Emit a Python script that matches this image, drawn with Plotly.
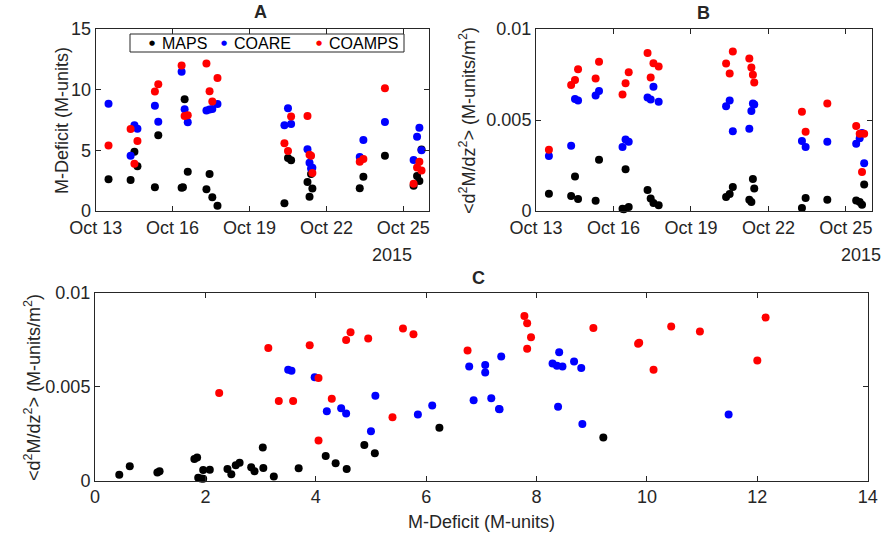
import plotly.graph_objects as go

# Profile times (UTC), shared by the three estimates
times = [
    "2015-10-13 12:00",
    "2015-10-14 08:40", "2015-10-14 12:15", "2015-10-14 15:05",
    "2015-10-15 07:25", "2015-10-15 10:35",
    "2015-10-16 08:25", "2015-10-16 09:40", "2015-10-16 11:15", "2015-10-16 14:10",
    "2015-10-17 07:40", "2015-10-17 10:35", "2015-10-17 13:10", "2015-10-17 18:00",
    "2015-10-20 08:40", "2015-10-20 12:00", "2015-10-20 14:55",
    "2015-10-21 06:15", "2015-10-21 08:10", "2015-10-21 09:35", "2015-10-21 10:50",
    "2015-10-23 07:10", "2015-10-23 10:35",
    "2015-10-24 06:45",
    "2015-10-25 09:35", "2015-10-25 12:50", "2015-10-25 15:00", "2015-10-25 17:00",
]

# M-deficit (M-units)
deficit_maps = [2.62, 2.55, 4.88, 3.69, 1.96, 6.24, 1.92, 1.96, 9.21, 3.24,
                1.80, 3.05, 1.13, 0.44, 0.63, 4.36, 4.18, 2.40, 1.17, 3.04, 1.85,
                1.87, 2.83, 4.56, 2.08, 2.89, 2.47, 5.07]
deficit_coare = [8.83, 4.55, 7.07, 6.78, 8.68, 7.36, 11.48, None, 8.39, 7.32,
                 8.29, 8.37, 8.41, 8.81, 7.07, 8.47, 7.18, 5.08, 3.98, 3.50, 3.56,
                 4.46, 5.85, 7.33, 4.20, 6.11, 6.86, 5.00]
deficit_coamps = [5.39, 6.75, 3.89, 5.77, 9.84, 10.44, 12.00, None, 7.83, 7.90,
                  12.15, 9.86, 9.03, 10.96, 5.58, 4.95, 7.78, 7.83, 4.63, 4.55, 3.14,
                  4.05, 4.29, 10.12, 2.25, 3.59, 4.05, 3.33]

# Mean curvature <d2M/dz2> (M-units/m^2)
curv_maps = [0.00095, 0.00082, 0.00190, 0.00066, 0.00057, 0.00282, 0.00012, 0.00010,
             0.00230, 0.00022, 0.00115, 0.00068, 0.00044, 0.00031, 0.00077, 0.00093,
             0.00132, 0.00062, 0.00050, 0.00176, 0.00124, 0.00016, 0.00072, 0.00062,
             0.00058, 0.00050, 0.00034, 0.00146]
curv_coare = [0.00302, 0.00358, 0.00616, 0.00607, 0.00634, 0.00660, 0.00352, None,
              0.00393, 0.00381, 0.00624, 0.00612, 0.00683, 0.00600, 0.00575, 0.00607,
              0.00438, 0.00452, 0.00550, 0.00590, 0.00585, 0.00385, 0.00352, 0.00380,
              0.00370, 0.00400, 0.00428, 0.00263]
curv_coamps = [0.00337, 0.00692, 0.00720, 0.00779, 0.00728, 0.00820, 0.00640, None,
               0.00702, 0.00763, 0.00868, 0.00734, 0.00812, 0.00794, 0.00810, 0.00756,
               0.00876, 0.00838, 0.00789, 0.00748, 0.00706, 0.00546, 0.00436, 0.00590,
               0.00467, 0.00424, 0.00214, 0.00424]

series_names = ["MAPS", "COARE", "COAMPS"]
series_colors = ["#000000", "#0000ff", "#ff0000"]
deficits = [deficit_maps, deficit_coare, deficit_coamps]
curvatures = [curv_maps, curv_coare, curv_coamps]

date_ticks = ["2015-10-13", "2015-10-16", "2015-10-19", "2015-10-22", "2015-10-25"]
date_range = ["2015-10-13", "2015-10-26"]
curv_ticks = [0, 0.005, 0.01]
curv_ticktext = ["0", "0.005", "0.01"]
deficit_ticks = [0, 5, 10, 15]

FONT = "Liberation Sans, Arial, sans-serif"
INK = "#262626"
W, H = 881, 542

fig = go.Figure()

marker_size = 8
for name, color, dvals, cvals in zip(series_names, series_colors, deficits, curvatures):
    common = dict(mode="markers", marker=dict(color=color, size=marker_size),
                  showlegend=False, cliponaxis=False, name=name)
    fig.add_trace(go.Scatter(x=times, y=dvals, xaxis="x", yaxis="y", **common))
    fig.add_trace(go.Scatter(x=times, y=cvals, xaxis="x2", yaxis="y2", **common))
    fig.add_trace(go.Scatter(x=dvals, y=cvals, xaxis="x3", yaxis="y3", **common))

axis_style = dict(showline=True, linecolor=INK, linewidth=1, mirror="allticks",
                  ticks="inside", ticklen=5, tickcolor=INK, showgrid=False,
                  zeroline=False, automargin=False,
                  tickfont=dict(family=FONT, size=18, color=INK))


def px_x(p):
    return p / W


def px_y(p):
    return 1 - p / H


dom_a_x = [px_x(95.7), px_x(429)]
dom_b_x = [px_x(536), px_x(871.7)]
dom_top_y = [px_y(211), px_y(29)]
dom_c_x = [px_x(95), px_x(867.7)]
dom_c_y = [px_y(480.7), px_y(292.7)]

fig.update_layout(
    width=W, height=H,
    margin=dict(l=0, r=0, t=0, b=0, autoexpand=False),
    paper_bgcolor="white", plot_bgcolor="white",
    font=dict(family=FONT, color=INK),
    showlegend=False,
    xaxis=dict(domain=dom_a_x, anchor="y", type="date", range=date_range,
               tickvals=date_ticks, tickformat="%b %d", **axis_style),
    yaxis=dict(domain=dom_top_y, anchor="x", range=[0, 15], tickvals=deficit_ticks,
               **axis_style),
    xaxis2=dict(domain=dom_b_x, anchor="y2", type="date", range=date_range,
                tickvals=date_ticks, tickformat="%b %d", **axis_style),
    yaxis2=dict(domain=dom_top_y, anchor="x2", range=[0, 0.01], tickvals=curv_ticks,
                ticktext=curv_ticktext, **axis_style),
    xaxis3=dict(domain=dom_c_x, anchor="y3", range=[0, 14], tickvals=list(range(0, 15, 2)),
                **axis_style),
    yaxis3=dict(domain=dom_c_y, anchor="x3", range=[0, 0.01], tickvals=curv_ticks,
                ticktext=curv_ticktext, **axis_style),
)

# compact legend box inside panel A (one row: dot + name per series)
legend_box = dict(x0=130, x1=404, y0=34, y1=52)
legend_dot_x = [152, 224, 319]
fig.add_shape(type="rect", xref="paper", yref="paper",
              x0=px_x(legend_box["x0"]), x1=px_x(legend_box["x1"]),
              y0=px_y(legend_box["y1"]), y1=px_y(legend_box["y0"]),
              line=dict(color=INK, width=1), fillcolor="white", layer="above")
legend_mid = (legend_box["y0"] + legend_box["y1"]) / 2
for name, color, dx in zip(series_names, series_colors, legend_dot_x):
    fig.add_annotation(text="\u25cf", x=px_x(dx), y=px_y(legend_mid + 0.5),
                       xref="paper", yref="paper", xanchor="center", yanchor="middle",
                       showarrow=False, font=dict(family="DejaVu Sans", size=7, color=color))
    fig.add_annotation(text=name, x=px_x(dx + 8), y=px_y(legend_mid),
                       xref="paper", yref="paper", xanchor="left", yanchor="middle",
                       showarrow=False, font=dict(family=FONT, size=16, color="#000000"))

curv_label = "&lt;d<sup>2</sup>M/dz<sup>2</sup>&gt; (M-units/m<sup>2</sup>)"
deficit_label = "M-Deficit (M-units)"

notes = [
    dict(text="<b>A</b>", x=260, y=12, size=18, angle=0),
    dict(text="<b>B</b>", x=703, y=13, size=18, angle=0),
    dict(text="<b>C</b>", x=478, y=278, size=18, angle=0),
    dict(text="2015", x=392, y=255, size=18, angle=0),
    dict(text="2015", x=861, y=255, size=18, angle=0),
    dict(text=deficit_label, x=62, y=121, size=18, angle=-90),
    dict(text=curv_label, x=468, y=121, size=18, angle=-90),
    dict(text=curv_label, x=32, y=388, size=18, angle=-90),
    dict(text=deficit_label, x=481, y=522, size=18, angle=0),
]
for n in notes:
    fig.add_annotation(text=n["text"], x=px_x(n["x"]), y=px_y(n["y"]),
                       xref="paper", yref="paper", xanchor="center", yanchor="middle",
                       showarrow=False, textangle=n["angle"],
                       font=dict(family=FONT, size=n["size"], color=INK))

fig.write_html("out.html")
